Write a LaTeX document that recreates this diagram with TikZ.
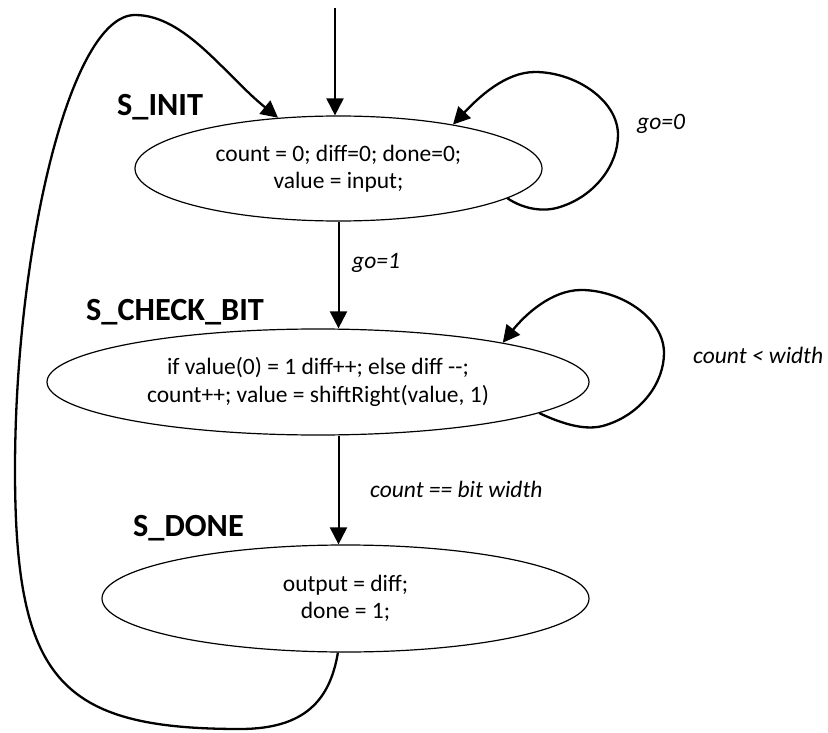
\documentclass[tikz,border=0pt]{standalone}
\usepackage{fontspec}
\setmainfont{Carlito}
\usetikzlibrary{arrows.meta,shapes.geometric}

\tikzset{
  state/.style={draw, ellipse, line width=1.2pt, inner sep=0pt,
    align=center, font=\fontsize{23.5}{27.5}\selectfont},
  statename/.style={anchor=base west, inner sep=0pt,
    font=\fontsize{32.3}{36}\selectfont\bfseries},
  cond/.style={anchor=base west, inner sep=0pt,
    font=\fontsize{23.5}{27}\selectfont\itshape},
  trans/.style={line width=2pt, -{Triangle[width=17pt,length=17pt]}},
  loopline/.style={line width=2.3pt, -{Triangle[width=17pt,length=17pt]}}
}

\begin{document}
\begin{tikzpicture}[x=1pt, y=-1pt]
\useasboundingbox (0,0) rectangle (828,733);

% states
\node[state, minimum width=407pt, minimum height=105pt] (s1) at (338.5,168.5)
  {count = 0; diff=0; done=0;\\ value = input;};
\node[state, minimum width=542pt, minimum height=106pt] (s2) at (318,382)
  {if value(0) = 1 diff++; else diff -{}-;\\ count++; value = shiftRight(value, 1)};
\node[state, minimum width=487pt, minimum height=107pt] (s3) at (345.5,598.5)
  {output = diff;\\ done = 1;};

% state names
\node[statename] (n1) at (117,116) {S\_INIT};
\node[statename] (n2) at (86,320) {S\_CHECK\_BIT};
\node[statename] (n3) at (133,536) {S\_DONE};

% transition conditions
\node[cond] (c0) at (637,130) {go=0};
\node[cond] (c1) at (352,268) {go=1};
\node[cond] (c2) at (693,363) {count < width};
\node[cond] (c3) at (370,497) {count == bit width};

% entry and straight transitions
\coordinate (entry) at (335,8);
\draw[trans] (entry) -- (entry |- s1.north);
\draw[trans] (s1.south) -- (s1.south |- s2.north);
\draw[trans] (s1.south |- s2.south) -- (s1.south |- s3.north);

% self loop on S_INIT (go=0)
\draw[loopline] (s1.-10)
  .. controls (525,210) and (545,212) .. (560,207)
  .. controls (595,196) and (618,165) .. (618,135)
  .. controls (618,100) and (575,72) .. (535,72)
  .. controls (505,72) and (478,98) .. (s1.21);

% self loop on S_CHECK_BIT (count < width)
\draw[loopline] (s2.-8)
  .. controls (571,428) and (591,430) .. (606,425)
  .. controls (641,414) and (664,383) .. (664,353)
  .. controls (664,318) and (621,290) .. (581,290)
  .. controls (551,290) and (524,316) .. (s2.12);

% return from S_DONE to S_INIT
\draw[loopline] (s3.-98)
  .. controls (330,700) and (305,729) .. (240,729)
  .. controls (60,729) and (15,680) .. (15,470)
  .. controls (15,250) and (70,15) .. (135,15)
  .. controls (185,15) and (225,75) .. (s1.140);
\end{tikzpicture}
\end{document}
